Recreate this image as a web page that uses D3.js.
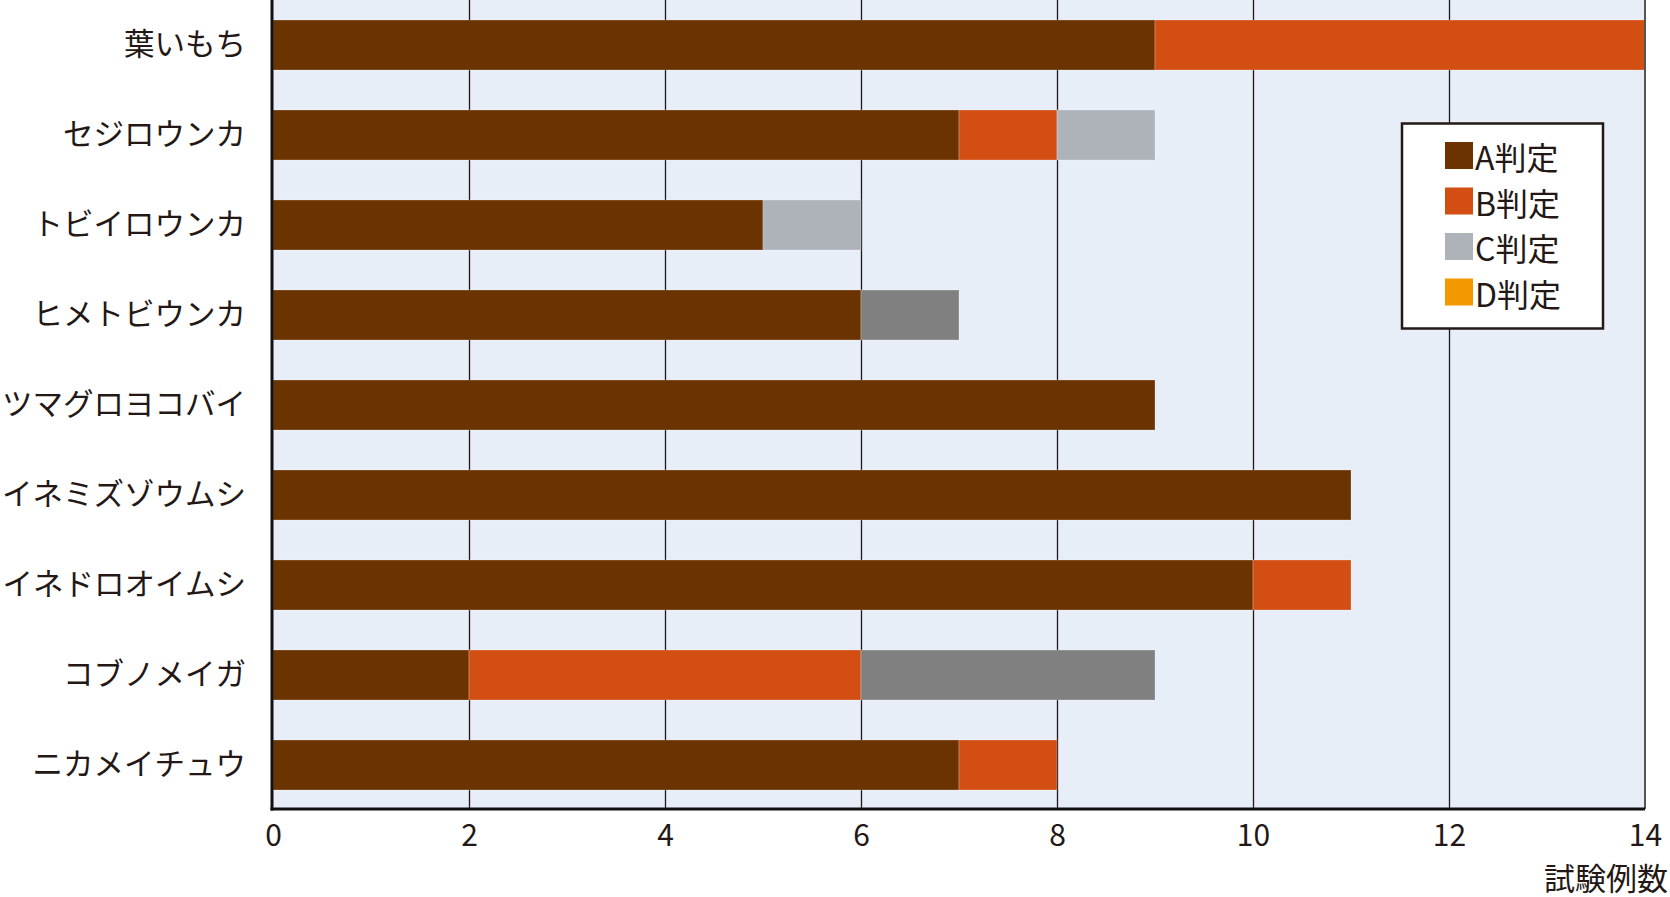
<!DOCTYPE html>
<html>
<head>
<meta charset="utf-8">
<script src="https://cdn.jsdelivr.net/npm/d3@7"></script>
<style>
  html, body { margin: 0; padding: 0; background: #ffffff; }
  svg { display: block; }
  text { font-family: "Noto Sans CJK JP", "Noto Sans", sans-serif; fill: #231815; font-weight: 400; }
</style>
</head>
<body>
<svg id="chart" width="1670" height="897"></svg>
<script>
// ---- data ----
const categories = ["葉いもち", "セジロウンカ", "トビイロウンカ", "ヒメトビウンカ", "ツマグロヨコバイ", "イネミズゾウムシ", "イネドロオイムシ", "コブノメイガ", "ニカメイチュウ"];
const seriesNames = ["A判定", "B判定", "C判定", "D判定", "その他"];
const valuesA = [9, 7, 5, 6, 9, 11, 10, 2, 7];
const valuesB = [5, 1, 0, 0, 0, 0, 1, 4, 1];
const valuesC = [0, 1, 1, 0, 0, 0, 0, 0, 0];
const valuesD = [0, 0, 0, 0, 0, 0, 0, 0, 0];
const valuesOther = [0, 0, 0, 1, 0, 0, 0, 3, 0];
const legendNames = ["A判定", "B判定", "C判定", "D判定"];
const xTicks = [0, 2, 4, 6, 8, 10, 12, 14];
const xAxisTitle = "試験例数";

const colors = {"A判定": "#6b3300", "B判定": "#d24e13", "C判定": "#aeb2b9", "D判定": "#f39800", "その他": "#808080"};

// ---- layout ----
const svg = d3.select("#chart");
const pLeft = 273, pRight = 1645, pTop = 0, pBottom = 809;
const FONT = "'Noto Sans CJK JP', 'Noto Sans', sans-serif";

const x = d3.scaleLinear().domain([0, 14]).range([pLeft, pRight]);
const y = d3.scaleBand().domain(categories).range([pTop, 810]).paddingInner(40/90).paddingOuter(20/90);

const rows = categories.map((c, i) => ({
  cat: c, "A判定": valuesA[i], "B判定": valuesB[i], "C判定": valuesC[i], "D判定": valuesD[i], "その他": valuesOther[i]
}));
const stacked = d3.stack().keys(seriesNames)(rows);

// background
svg.append("rect").attr("x", pLeft).attr("y", pTop).attr("width", pRight - pLeft).attr("height", pBottom - pTop)
  .attr("fill", "#e7eef8");

// gridlines
const grid = svg.append("g").attr("transform", `translate(0,${pBottom})`)
  .call(d3.axisBottom(x).tickValues(xTicks.filter(v => v > 0 && v < 14)).tickSize(-(pBottom - pTop)).tickFormat(""));
grid.select(".domain").remove();
grid.selectAll("line").attr("stroke", "#231815").attr("stroke-width", 1.3);

// bars
svg.append("g").selectAll("g").data(stacked).join("g")
  .attr("fill", d => colors[d.key])
  .selectAll("rect").data(d => d.filter(s => s[1] - s[0] > 0)).join("rect")
  .attr("x", d => x(d[0]))
  .attr("y", d => y(d.data.cat))
  .attr("width", d => x(d[1]) - x(d[0]))
  .attr("height", y.bandwidth())
  .attr("stroke", "rgba(255,255,255,0.25)")
  .attr("stroke-width", 1);

// right border
svg.append("line").attr("x1", pRight).attr("x2", pRight).attr("y1", pTop).attr("y2", pBottom)
  .attr("stroke", "#555").attr("stroke-width", 2);

// axes lines
svg.append("line").attr("x1", pLeft - 1).attr("x2", pLeft - 1).attr("y1", pTop).attr("y2", pBottom + 1.5)
  .attr("stroke", "#111").attr("stroke-width", 3);
svg.append("line").attr("x1", pLeft - 2.5).attr("x2", pRight).attr("y1", pBottom).attr("y2", pBottom)
  .attr("stroke", "#111").attr("stroke-width", 3);

// x tick labels
const xAxis = svg.append("g").attr("transform", `translate(0,${pBottom})`)
  .call(d3.axisBottom(x).tickValues(xTicks).tickSize(0).tickPadding(16).tickFormat(d3.format("d")));
xAxis.select(".domain").remove();
xAxis.selectAll("text").attr("font-size", 30).attr("fill", "#231815")
  .style("font-family", FONT);

// x axis title
svg.append("text").attr("x", 1668).attr("y", 876).attr("text-anchor", "end")
  .attr("dominant-baseline", "central").attr("font-size", 31).text(xAxisTitle);

// category labels
const yAxis = svg.append("g").attr("transform", `translate(${pLeft},0)`)
  .call(d3.axisLeft(y).tickSize(0).tickPadding(27));
yAxis.select(".domain").remove();
yAxis.selectAll("text").attr("font-size", 30.5).attr("fill", "#231815")
  .style("font-family", FONT);

// legend
const lg = svg.append("g");
lg.append("rect").attr("x", 1402).attr("y", 123.5).attr("width", 201).attr("height", 205)
  .attr("fill", "#ffffff").attr("stroke", "#231815").attr("stroke-width", 2.5);
legendNames.forEach((name, i) => {
  const yy = 142 + i * 45.5;
  lg.append("rect").attr("x", 1445).attr("y", yy).attr("width", 28).attr("height", 27)
    .attr("fill", colors[name]);
  lg.append("text").attr("x", 1475).attr("y", yy + 14).attr("dominant-baseline", "central")
    .attr("font-size", 32).text(name);
});
</script>
</body>
</html>
